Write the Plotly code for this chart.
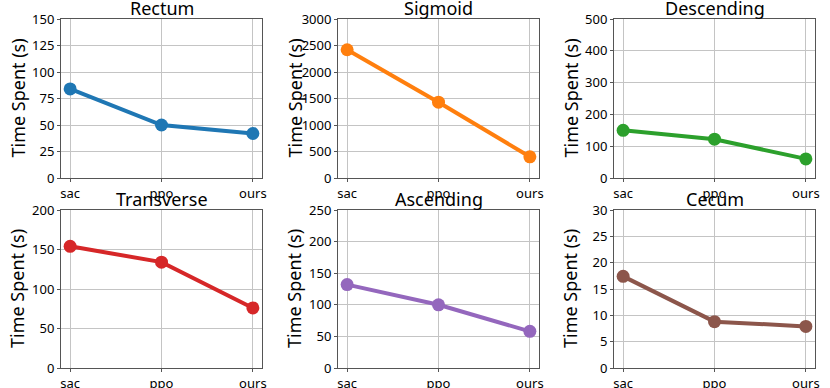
import plotly.graph_objects as go

methods = ["sac", "ppo", "ours"]

segments = ["Rectum", "Sigmoid", "Descending", "Transverse", "Ascending", "Cecum"]
rectum = [84, 50, 42]
sigmoid = [2420, 1430, 400]
descending = [150, 122, 60]
transverse = [154, 134, 76]
ascending = [132, 100, 58]
cecum = [17.4, 8.8, 7.9]

y_max = [150, 3000, 500, 200, 250, 30]
y_step = [25, 500, 100, 50, 50, 5]

colors = ["#1f77b4", "#ff7f0e", "#2ca02c", "#d62728", "#9467bd", "#8c564b"]

W, H = 830, 388
# pixel boxes of each panel: (left, right, top, bottom)
boxes = [
    (61, 262, 19, 178), (338, 539, 19, 178), (614, 815, 19, 178),
    (61, 262, 210, 368), (338, 539, 210, 368), (614, 815, 210, 368),
]

series = [rectum, sigmoid, descending, transverse, ascending, cecum]
font = "Noto Sans, Open Sans, DejaVu Sans, sans-serif"

fig = go.Figure()
annotations = []
layout = {}

for i, (name, vals) in enumerate(zip(segments, series)):
    n = "" if i == 0 else str(i + 1)
    l, r, t, b = boxes[i]
    fig.add_trace(go.Scatter(
        x=methods, y=vals, mode="lines+markers",
        line=dict(color=colors[i], width=4),
        marker=dict(color=colors[i], size=13),
        xaxis="x" + n, yaxis="y" + n, showlegend=False,
    ))
    common = dict(
        showline=True, mirror=True, linecolor="#555", linewidth=1,
        showgrid=True, gridcolor="#c4c4c4", gridwidth=1,
        ticks="outside", ticklen=3, tickcolor="#555",
        tickfont=dict(size=13, color="black"), zeroline=False,
        automargin=False,
    )
    layout["xaxis" + n] = dict(
        common, domain=[l / W, r / W], anchor="y" + n,
        type="category", range=[-0.1, 2.1],
    )
    layout["yaxis" + n] = dict(
        common, domain=[1 - b / H, 1 - t / H], anchor="x" + n,
        range=[0, y_max[i]], dtick=y_step[i], tick0=0,
    )
    annotations.append(dict(
        text=name, xref="paper", yref="paper",
        x=(l + r) / 2 / W, y=1 - t / H, xanchor="center", yanchor="bottom",
        yshift=-3, showarrow=False, font=dict(size=18, color="black"),
    ))
    annotations.append(dict(
        text="Time Spent (s)", xref="paper", yref="paper", textangle=-90,
        x=(l - 44) / W, y=1 - (t + b) / 2 / H, xanchor="center", yanchor="middle",
        showarrow=False, font=dict(size=18, color="black"),
    ))

fig.update_layout(
    width=W, height=H,
    margin=dict(l=0, r=0, t=0, b=0, autoexpand=False),
    paper_bgcolor="white", plot_bgcolor="white",
    font=dict(family=font, color="black"),
    annotations=annotations,
    **layout,
)

# the default page has an 8px body margin; drop it so pixels line up
fig.write_html("out.html", config={"displayModeBar": False},
               post_script="document.body.style.margin='0';")
